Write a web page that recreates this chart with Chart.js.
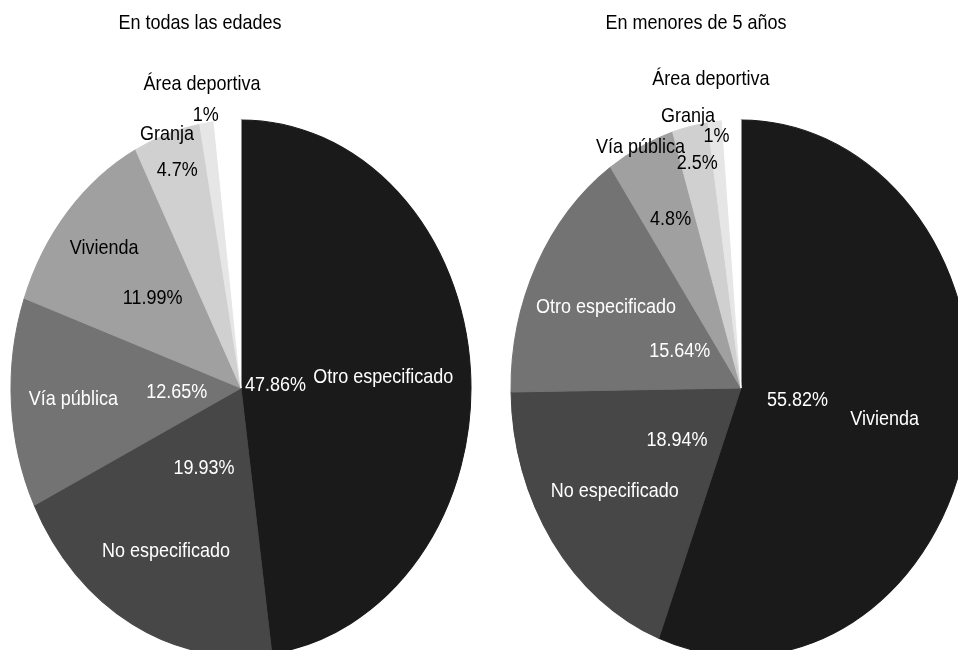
<!DOCTYPE html>
<html lang="es">
<head>
<meta charset="utf-8">
<title>Lugar de ocurrencia</title>
<script src="https://cdn.jsdelivr.net/npm/chart.js@4.4.1/dist/chart.umd.min.js"></script>
<style>
  body { margin: 0; background: #fff; }
  .panel { position: absolute; top: 0; width: 479px; height: 650px; }
  #panel-todas { left: 0; }
  #panel-menores { left: 479px; }
</style>
</head>
<body>
<div class="panel" id="panel-todas"><canvas id="pieTodas"></canvas></div>
<div class="panel" id="panel-menores"><canvas id="pieMenores"></canvas></div>
<script>
// Datos (el último valor es el hueco blanco sin etiqueta)
const categoriasTodas = ['Otro especificado', 'No especificado', 'Vía pública', 'Vivienda', 'Granja', 'Área deportiva', ''];
const valoresTodas = [47.86, 19.93, 12.65, 11.99, 4.7, 1, 1.87];

const categoriasMenores = ['Vivienda', 'No especificado', 'Otro especificado', 'Vía pública', 'Granja', 'Área deportiva', ''];
const valoresMenores = [55.82, 18.94, 15.64, 4.8, 2.5, 1, 1.3];

const tituloTodas = 'En todas las edades';
const tituloMenores = 'En menores de 5 años';

// Estilo
const grises = ['#1a1a1a', '#474747', '#737373', '#a0a0a0', '#d0d0d0', '#e6e6e6', '#ffffff'];
const colorTexto = ['#ffffff', '#ffffff', '#ffffff', '#000000', '#000000', '#000000', '#000000'];
const ESTIRAMIENTO = 268 / 230;   // el pastel original está estirado en vertical
const FUENTE = '18px "Liberation Sans", Arial, sans-serif';

// Distancia de cada etiqueta al centro (fracción del radio)
const radiosNombreTodas = [0.62, 0.69, 0.73, 0.79, 1.0, 1.145];
const radiosPctTodas = [0.15, 0.34, 0.28, 0.51, 0.86, 1.03];
const radiosNombreMenores = [0.635, 0.67, 0.66, 1.0, 1.04, 1.16];
const radiosPctMenores = [0.25, 0.34, 0.30, 0.70, 0.86, 0.945];

function textoEstirado(ctx, texto, x, y) {
    ctx.save();
    ctx.translate(x, y);
    ctx.scale(1, ESTIRAMIENTO);
    ctx.fillText(texto, 0, 0);
    ctx.restore();
}

function crearPastel(id, titulo, xTitulo, etiquetas, valores, radiosNombre, radiosPct, padIzq) {
    const pluginElipse = {
        id: 'elipse',
        beforeDatasetsDraw(chart) {
            const centro = chart.getDatasetMeta(0).data[0];
            const ctx = chart.ctx;
            ctx.save();
            ctx.translate(0, centro.y);
            ctx.scale(1, ESTIRAMIENTO);
            ctx.translate(0, -centro.y);
        },
        afterDatasetsDraw(chart) {
            chart.ctx.restore();
        }
    };

    const pluginEtiquetas = {
        id: 'etiquetas',
        afterDraw(chart) {
            const ctx = chart.ctx;
            ctx.save();
            ctx.font = FUENTE;
            ctx.textAlign = 'center';
            ctx.textBaseline = 'middle';
            ctx.fillStyle = '#000';
            textoEstirado(ctx, titulo, xTitulo, 23);

            chart.getDatasetMeta(0).data.forEach((arco, i) => {
                if (!etiquetas[i]) return;
                const medio = (arco.startAngle + arco.endAngle) / 2;
                const r = arco.outerRadius;
                const pos = f => ({
                    x: arco.x + Math.cos(medio) * r * f,
                    y: arco.y + Math.sin(medio) * r * f * ESTIRAMIENTO
                });
                ctx.fillStyle = colorTexto[i];
                const pn = pos(radiosNombre[i]);
                textoEstirado(ctx, etiquetas[i], pn.x, pn.y);
                const pp = pos(radiosPct[i]);
                textoEstirado(ctx, valores[i] + '%', pp.x, pp.y);
            });
            ctx.restore();
        }
    };

    return new Chart(document.getElementById(id), {
        type: 'pie',
        data: {
            labels: etiquetas,
            datasets: [{
                data: valores,
                backgroundColor: grises,
                borderColor: grises,
                borderWidth: 1,
                hoverOffset: 0,
                clip: false
            }]
        },
        options: {
            responsive: true,
            maintainAspectRatio: false,
            animation: false,
            events: [],
            radius: 230,
            layout: { padding: { left: padIzq, right: 0, top: 126, bottom: 0 } },
            plugins: { legend: { display: false }, tooltip: { enabled: false } }
        },
        plugins: [pluginElipse, pluginEtiquetas]
    });
}

crearPastel('pieTodas', tituloTodas, 200, categoriasTodas, valoresTodas, radiosNombreTodas, radiosPctTodas, 3);
crearPastel('pieMenores', tituloMenores, 217, categoriasMenores, valoresMenores, radiosNombreMenores, radiosPctMenores, 45);
</script>
</body>
</html>
